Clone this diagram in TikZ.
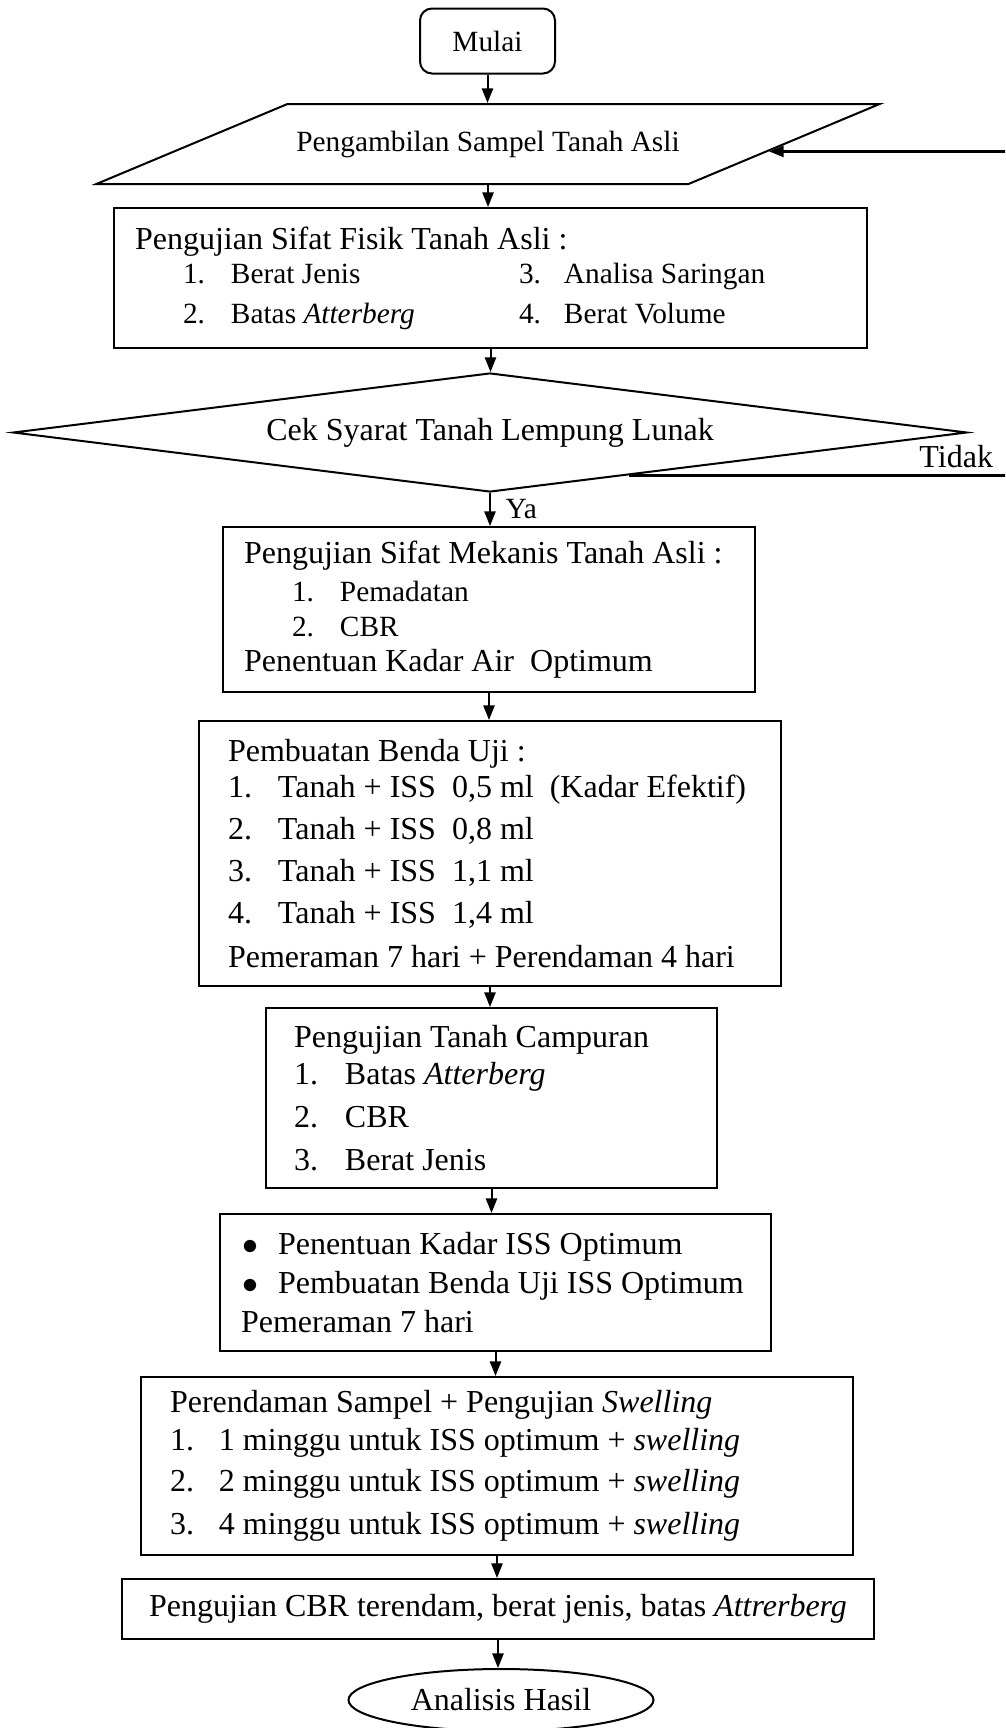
\documentclass[tikz,border=0pt]{standalone}
\usepackage{fontspec}
\setmainfont{Liberation Serif}
\usetikzlibrary{shapes.geometric,arrows.meta,calc,positioning}
\newlength{\px}
\setlength{\px}{0.375pt}
\newcommand{\itemfont}{\fontsize{11}{13}\selectfont}
\tikzstyle{block} = [draw, rectangle, align=left, line width=0.75pt, execute at begin node={\spaceskip=0pt\xspaceskip=0pt}]
\tikzstyle{startstop} = [draw, rectangle, rounded corners=4.5pt, line width=0.75pt, font=\itemfont]
\tikzstyle{io} = [draw, trapezium, trapezium left angle=13.1, trapezium right angle=166.9, trapezium stretches body, line width=0.75pt, font=\itemfont]
\tikzstyle{decision} = [draw, diamond, aspect=8, line width=0.75pt]
\tikzstyle{finish} = [draw, ellipse, line width=0.75pt]
\tikzstyle{line} = [draw, ->, line width=0.75pt]

\begin{document}
\begin{tikzpicture}[x=0.375pt, y=-0.375pt, >={Triangle[length=5.5pt,width=4.2pt]}, font=\fontsize{12}{14}\selectfont]
\path [use as bounding box, clip] (0,0) rectangle (1005,1728);

\node [startstop, minimum width=135\px, minimum height=65\px] (mulai) at (487.5,41) {Mulai};
\node [io, minimum width=774\px, minimum height=80\px] (sampel) at (488,144) {Pengambilan Sampel Tanah Asli};

\node [block, minimum width=753\px, minimum height=140\px, text width=711\px,
  font=\fontsize{12}{15}\selectfont] (fisik) at (490.5,278)
  {Pengujian Sifat Fisik Tanah Asli :\\[-2.25pt]
   {\itemfont\hspace*{48\px}\makebox[48\px][l]{1.}\makebox[288\px][l]{Berat Jenis}\makebox[45\px][l]{3.}Analisa Saringan}\\
   {\itemfont\hspace*{48\px}\makebox[48\px][l]{2.}\makebox[288\px][l]{Batas \textit{Atterberg}}\makebox[45\px][l]{4.}Berat Volume}};

\node [decision, minimum width=954\px, minimum height=119\px] (cek) at (490,432.5) {Cek Syarat Tanah Lempung Lunak};

\node [block, minimum width=532\px, minimum height=165\px, text width=490\px,
  font=\fontsize{12}{13.1}\selectfont] (mekanis) at (489,609.5)
  {Pengujian Sifat Mekanis Tanah Asli :\\[1pt]
   {\itemfont\hspace*{48\px}\makebox[48\px][l]{1.}Pemadatan}\\
   {\itemfont\hspace*{48\px}\makebox[48\px][l]{2.}CBR}\\
   Penentuan Kadar Air\ \ Optimum};

\node [block, minimum width=582\px, minimum height=265\px, text width=524\px,
  font=\fontsize{12}{15.75}\selectfont] (benda) at (490,853.5)
  {Pembuatan Benda Uji :\\[-2.25pt]
   \makebox[50\px][l]{1.}Tanah + ISS\ \ 0,5 ml\ \ (Kadar Efektif)\\
   \makebox[50\px][l]{2.}Tanah + ISS\ \ 0,8 ml\\
   \makebox[50\px][l]{3.}Tanah + ISS\ \ 1,1 ml\\
   \makebox[50\px][l]{4.}Tanah + ISS\ \ 1,4 ml\\[0.75pt]
   Pemeraman 7 hari + Perendaman 4 hari};

\node [block, minimum width=451\px, minimum height=180\px, text width=395\px,
  font=\fontsize{12}{16.1}\selectfont] (campuran) at (491.5,1098)
  {Pengujian Tanah Campuran\\[-2.25pt]
   \makebox[51\px][l]{1.}Batas \textit{Atterberg}\\
   \makebox[51\px][l]{2.}CBR\\
   \makebox[51\px][l]{3.}Berat Jenis};

\node [block, minimum width=551\px, minimum height=137\px, text width=509\px,
  font=\fontsize{12}{14.6}\selectfont] (iss) at (495.5,1282.5)
  {\hspace*{1\px}\makebox[36\px][l]{$\bullet$}Penentuan Kadar ISS Optimum\\
   \hspace*{1\px}\makebox[36\px][l]{$\bullet$}Pembuatan Benda Uji ISS Optimum\\
   Pemeraman 7 hari};

\node [block, minimum width=712\px, minimum height=178\px, text width=654\px,
  font=\fontsize{12}{15.4}\selectfont] (swelling) at (497,1466)
  {Perendaman Sampel + Pengujian \textit{Swelling}\\[-1.1pt]
   \makebox[49\px][l]{1.}1 minggu untuk ISS optimum + \textit{swelling}\\
   \makebox[49\px][l]{2.}2 minggu untuk ISS optimum + \textit{swelling}\\[0.75pt]
   \makebox[49\px][l]{3.}4 minggu untuk ISS optimum + \textit{swelling}};

\node [block, align=center, minimum width=752\px, minimum height=60\px] (cbr) at (498,1609)
  {Pengujian CBR terendam, berat jenis, batas \textit{Attrerberg}};

\node [finish, minimum width=305\px, minimum height=62\px] (hasil) at (501,1700) {Analisis Hasil};

% alur utama
\path [line] (mulai.south) -- (mulai.south |- sampel.north);
\path [line] (sampel.south) -- (sampel.south |- fisik.north);
\path [line] (fisik.south) -- (fisik.south |- cek.north);
\path [line] (cek.south) -- node [right, inner sep=5.5pt, font=\itemfont] {Ya} (cek.south |- mekanis.north);
\path [line] (mekanis.south) -- (mekanis.south |- benda.north);
\path [line] (benda.south) -- (benda.south |- campuran.north);
\path [line] (campuran.south) -- (campuran.south |- iss.north);
\path [line] (iss.south) -- (iss.south |- swelling.north);
\path [line] (swelling.south) -- (swelling.south |- cbr.north);
\path [line] (cbr.south) -- (cbr.south |- hasil.north);

% kembali ke pengambilan sampel
\coordinate (tidak) at ($(cek.south)!0.29!(cek.east)$);
\coordinate (back) at ($(sampel.top right corner)!0.59!(sampel.bottom right corner)$);
\draw [->, line width=0.9pt] (tidak) -- node [pos=0.78, above, inner sep=2.5pt] {Tidak} ++(420,0) |- (back);

\end{tikzpicture}
\end{document}
